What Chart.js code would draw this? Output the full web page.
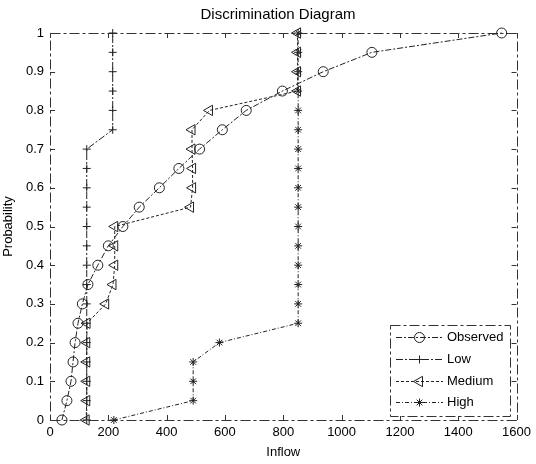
<!DOCTYPE html>
<html><head><meta charset="utf-8">
<script src="https://cdn.jsdelivr.net/npm/chart.js@4/dist/chart.umd.min.js"></script>
<style>html,body{margin:0;padding:0;background:#fff;}canvas{display:block;}</style>
</head><body>
<canvas id="c" width="536" height="464"></canvas>
<script>
// ---- data ----
const probabilities = [0,0.05,0.1,0.15,0.2,0.25,0.3,0.35,0.4,0.45,0.5,0.55,0.6,0.65,0.7,0.75,0.8,0.85,0.9,0.95,1];
const observedInflow = [41,58,72,79,86,96,111,130,164,200,250,306,375,442,513,591,673,797,937,1104,1549];
const lowInflow = [126,126,126,126,126,126,126,126,126,126,126,126,126,126,126,215,215,215,215,215,215];
const mediumInflow = [124,126,126,126,126,127,191,216,222,222,222,482,489,489,487,487,547,849,849,849,849];
const highInflow = [219,491,491,491,581,851,851,851,851,851,851,851,851,851,851,851,851,851,851,851,851];
const seriesNames = ['Observed','Low','Medium','High'];
const xTickValues = [0,200,400,600,800,1000,1200,1400,1600];
const yTickValues = [0,0.1,0.2,0.3,0.4,0.5,0.6,0.7,0.8,0.9,1];
const chartTitle = 'Discrimination Diagram';
const xAxisTitle = 'Inflow';
const yAxisTitle = 'Probability';

const FONT = '"Liberation Sans", Arial, sans-serif';
const INK = '#222';

function pts(arr){ return arr.map((v,i)=>({x:v, y:probabilities[i]})); }

const styles = [
  {pointStyle:'circle',   radius:5, rot:0,   dash:[6,2,2,2]},
  {pointStyle:'cross',    radius:4, rot:0,   dash:[7,2,2,2]},
  {pointStyle:'triangle', radius:6, rot:-90, dash:[3,2]},
  {pointStyle:'star',     radius:4, rot:0,   dash:[4,2,1,2]}
];
const seriesData = [observedInflow, lowInflow, mediumInflow, highInflow];

const datasets = seriesData.map((arr,i)=>({
  label: seriesNames[i],
  data: pts(arr),
  showLine: true,
  tension: 0,
  borderColor: INK,
  borderWidth: 1,
  borderDash: styles[i].dash,
  pointStyle: styles[i].pointStyle,
  pointRadius: styles[i].radius,
  pointRotation: styles[i].rot,
  pointBorderColor: INK,
  pointBackgroundColor: 'rgba(0,0,0,0)',
  pointBorderWidth: 1,
  clip: false
}));

function drawMarker(ctx, style, x, y){
  ctx.save();
  ctx.setLineDash([]);
  ctx.strokeStyle = INK; ctx.lineWidth = 1;
  const r = style.radius;
  ctx.beginPath();
  if (style.pointStyle === 'circle') {
    ctx.arc(x, y, r, 0, Math.PI*2);
  } else if (style.pointStyle === 'cross') {
    ctx.moveTo(x-r,y); ctx.lineTo(x+r,y); ctx.moveTo(x,y-r); ctx.lineTo(x,y+r);
  } else if (style.pointStyle === 'triangle') {
    const rad = style.rot*Math.PI/180;
    for (let k=0;k<3;k++){
      const a = rad + k*2*Math.PI/3;
      const px = x + Math.sin(a)*r, py = y - Math.cos(a)*r;
      if (k===0) ctx.moveTo(px,py); else ctx.lineTo(px,py);
    }
    ctx.closePath();
  } else if (style.pointStyle === 'star') {
    ctx.moveTo(x-r,y); ctx.lineTo(x+r,y); ctx.moveTo(x,y-r); ctx.lineTo(x,y+r);
    const d = r*Math.SQRT1_2;
    ctx.moveTo(x-d,y-d); ctx.lineTo(x+d,y+d); ctx.moveTo(x-d,y+d); ctx.lineTo(x+d,y-d);
  }
  ctx.stroke();
  ctx.restore();
}

const decor = {
  id: 'decor',
  beforeDatasetsDraw(chart){
    const {ctx, chartArea:a, scales:{x, y}} = chart;
    ctx.save();
    // inward ticks on all four sides
    ctx.strokeStyle = '#333'; ctx.lineWidth = 1; ctx.setLineDash([]);
    ctx.beginPath();
    xTickValues.forEach(v=>{
      const px = Math.round(x.getPixelForValue(v))+0.5;
      ctx.moveTo(px, a.bottom); ctx.lineTo(px, a.bottom-5);
      ctx.moveTo(px, a.top); ctx.lineTo(px, a.top+5);
    });
    yTickValues.forEach(v=>{
      const py = Math.round(y.getPixelForValue(v))+0.5;
      ctx.moveTo(a.left, py); ctx.lineTo(a.left+5, py);
      ctx.moveTo(a.right, py); ctx.lineTo(a.right-5, py);
    });
    ctx.stroke();
    // frame
    ctx.strokeStyle = '#333';
    ctx.setLineDash([10,3,3,3]);
    ctx.strokeRect(Math.round(a.left)+0.5, Math.round(a.top)+0.5, Math.round(a.right-a.left), Math.round(a.bottom-a.top));
    ctx.restore();
  },
  afterDatasetsDraw(chart){
    const {ctx} = chart;
    ctx.save();
    // legend box
    const bx=390, by=325, bw=120, bh=91;
    ctx.fillStyle = '#fff';
    ctx.fillRect(bx, by, bw, bh);
    ctx.strokeStyle = '#333'; ctx.lineWidth = 1;
    ctx.setLineDash([10,3,3,3]);
    ctx.strokeRect(bx+0.5, by+0.5, bw, bh);
    const rows = [337, 359, 381, 402];
    ctx.font = '13px ' + FONT;
    ctx.fillStyle = '#000';
    ctx.textBaseline = 'middle';
    ctx.textAlign = 'left';
    seriesNames.forEach((name,i)=>{
      const yy = rows[i]+0.5;
      ctx.setLineDash(styles[i].dash);
      ctx.strokeStyle = INK;
      ctx.beginPath(); ctx.moveTo(396, yy); ctx.lineTo(443, yy); ctx.stroke();
      drawMarker(ctx, styles[i], 419.5, yy);
      ctx.fillText(name, 447, rows[i]);
    });
    ctx.restore();
  },
  afterDraw(chart){
    const {ctx} = chart;
    ctx.save();
    ctx.font = '15px ' + FONT;
    ctx.fillStyle = '#000';
    ctx.textAlign = 'center';
    ctx.textBaseline = 'middle';
    ctx.fillText(chartTitle, 278, 15);
    ctx.restore();
  }
};

new Chart(document.getElementById('c'), {
  type: 'scatter',
  data: { datasets },
  options: {
    responsive: false,
    animation: false,
    devicePixelRatio: 1,
    layout: { padding: { top: 33, right: 19, left: 0, bottom: 0 } },
    plugins: { legend: { display: false }, tooltip: { enabled: false }, title: { display: false } },
    scales: {
      x: {
        type: 'linear', min: 0, max: 1600,
        afterBuildTicks: s => { s.ticks = xTickValues.map(v=>({value:v})); },
        afterFit: s => { s.height = 44; },
        grid: { display: false, drawTicks: false },
        border: { display: false },
        ticks: { padding: 5, color: '#000', font: { family: FONT, size: 13 }, maxRotation: 0, autoSkip: false,
                 callback: v => String(v) },
        title: { display: true, text: xAxisTitle, color: '#000', font: { family: FONT, size: 13 }, padding: { top: 0, bottom: 4 } }
      },
      y: {
        type: 'linear', min: 0, max: 1,
        afterBuildTicks: s => { s.ticks = yTickValues.map(v=>({value:v})); },
        afterFit: s => { s.width = 50; },
        grid: { display: false, drawTicks: false },
        border: { display: false },
        ticks: { padding: 6, color: '#000', font: { family: FONT, size: 13 }, autoSkip: false,
                 callback: v => String(Math.round(v*10)/10) },
        title: { display: true, text: yAxisTitle, color: '#000', font: { family: FONT, size: 13 }, padding: { top: 1, bottom: 0 } }
      }
    }
  },
  plugins: [decor]
});
</script>
</body></html>
